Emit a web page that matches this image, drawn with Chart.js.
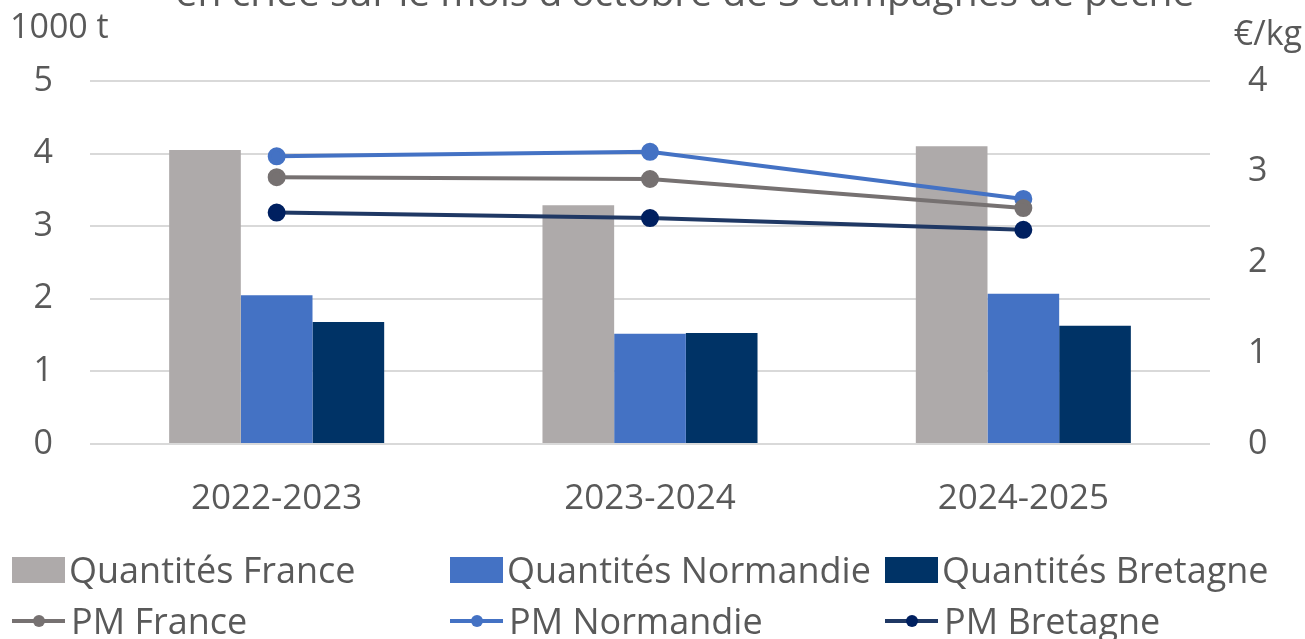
<!DOCTYPE html>
<html>
<head>
<meta charset="utf-8">
<script src="https://cdn.jsdelivr.net/npm/chart.js@4"></script>
<style>
html,body{margin:0;padding:0;background:#fff;}
#wrap{position:relative;width:1305px;height:639px;}
</style>
</head>
<body>
<div id="wrap"><canvas id="c" width="1305" height="639"></canvas></div>
<script>
const categories = ["2022-2023", "2023-2024", "2024-2025"];
const qteFrance = [4.05, 3.29, 4.10];
const qteNormandie = [2.05, 1.52, 2.07];
const qteBretagne = [1.68, 1.53, 1.63];
const pmFrance = [2.94, 2.92, 2.60];
const pmNormandie = [3.17, 3.22, 2.70];
const pmBretagne = [2.55, 2.49, 2.36];
const titleText = "en criée sur le mois d'octobre de 3 campagnes de pêche";
const leftUnit = "1000 t";
const rightUnit = "€/kg";

const FONT = "'Open Sans'";
const TXT = "#595959";
const FS = 35;

const overlay = {
  id: 'overlay',
  afterDraw(chart) {
    const ctx = chart.ctx;
    ctx.save();
    ctx.fillStyle = TXT;
    ctx.font = "39px " + FONT;
    ctx.textAlign = "center";
    ctx.textBaseline = "alphabetic";
    ctx.fillText(titleText, 685, 6);
    ctx.font = "34px " + FONT;
    ctx.textAlign = "left";
    ctx.fillText(leftUnit, 10, 38);
    ctx.textAlign = "right";
    ctx.fillText(rightUnit, 1302, 45);
    // legend
    const cols = [12, 450, 885];
    const rows = [570, 621];
    ctx.font = "36px " + FONT;
    ctx.textAlign = "left";
    ctx.textBaseline = "middle";
    chart.data.datasets.forEach((ds, i) => {
      const isLine = ds.type === 'line';
      const r = isLine ? 1 : 0;
      const idx = isLine ? i - 3 : i;
      const x = cols[idx], y = rows[r];
      if (!isLine) {
        ctx.fillStyle = ds.backgroundColor;
        ctx.fillRect(x, y - 13, 53, 26);
      } else {
        ctx.strokeStyle = ds.borderColor;
        ctx.lineWidth = 4;
        ctx.beginPath(); ctx.moveTo(x, y); ctx.lineTo(x + 53, y); ctx.stroke();
        ctx.fillStyle = ds.pointBackgroundColor;
        ctx.beginPath(); ctx.arc(x + 27, y, 6, 0, Math.PI * 2); ctx.fill();
      }
      ctx.fillStyle = TXT;
      ctx.fillText(ds.label, x + (isLine ? 59 : 57), y + 3);
    });
    ctx.restore();
  }
};

new Chart(document.getElementById('c'), {
  data: {
    labels: categories,
    datasets: [
      {type: 'bar', label: 'Quantités France', data: qteFrance, backgroundColor: '#AEAAAA', yAxisID: 'y', order: 2},
      {type: 'bar', label: 'Quantités Normandie', data: qteNormandie, backgroundColor: '#4472C4', yAxisID: 'y', order: 2},
      {type: 'bar', label: 'Quantités Bretagne', data: qteBretagne, backgroundColor: '#003366', yAxisID: 'y', order: 2},
      {type: 'line', label: 'PM France', data: pmFrance, borderColor: '#767171', pointBackgroundColor: '#767171', pointBorderColor: '#767171', yAxisID: 'y1', order: 1},
      {type: 'line', label: 'PM Normandie', data: pmNormandie, borderColor: '#4472C4', pointBackgroundColor: '#4472C4', pointBorderColor: '#4472C4', yAxisID: 'y1', order: 1},
      {type: 'line', label: 'PM Bretagne', data: pmBretagne, borderColor: '#1F3864', pointBackgroundColor: '#002060', pointBorderColor: '#002060', yAxisID: 'y1', order: 1}
    ]
  },
  options: {
    responsive: false,
    animation: false,
    layout: {padding: {top: 81, bottom: 115, left: 0, right: 0}},
    datasets: {
      bar: {categoryPercentage: 0.576, barPercentage: 1.0, borderWidth: 0},
      line: {borderWidth: 4, pointRadius: 7, pointHoverRadius: 7, tension: 0, fill: false}
    },
    plugins: {legend: {display: false}, title: {display: false}, tooltip: {enabled: false}},
    scales: {
      x: {
        grid: {display: false, drawTicks: false},
        border: {display: false},
        ticks: {color: TXT, font: {family: FONT, size: FS}, padding: 34},
        afterFit(s) { s.height = 80; }
      },
      y: {
        position: 'left', min: 0, max: 5,
        ticks: {stepSize: 1, color: TXT, font: {family: FONT, size: 34}, padding: 37},
        grid: {color: '#D9D9D9', lineWidth: 2, drawTicks: false},
        border: {display: false},
        afterFit(s) { s.width = 90; }
      },
      y1: {
        position: 'right', min: 0, max: 4,
        ticks: {stepSize: 1, color: TXT, font: {family: FONT, size: 34}, padding: 38},
        grid: {display: false, drawTicks: false},
        border: {display: false},
        afterFit(s) { s.width = 95; }
      }
    }
  },
  plugins: [overlay]
});
</script>
</body>
</html>
